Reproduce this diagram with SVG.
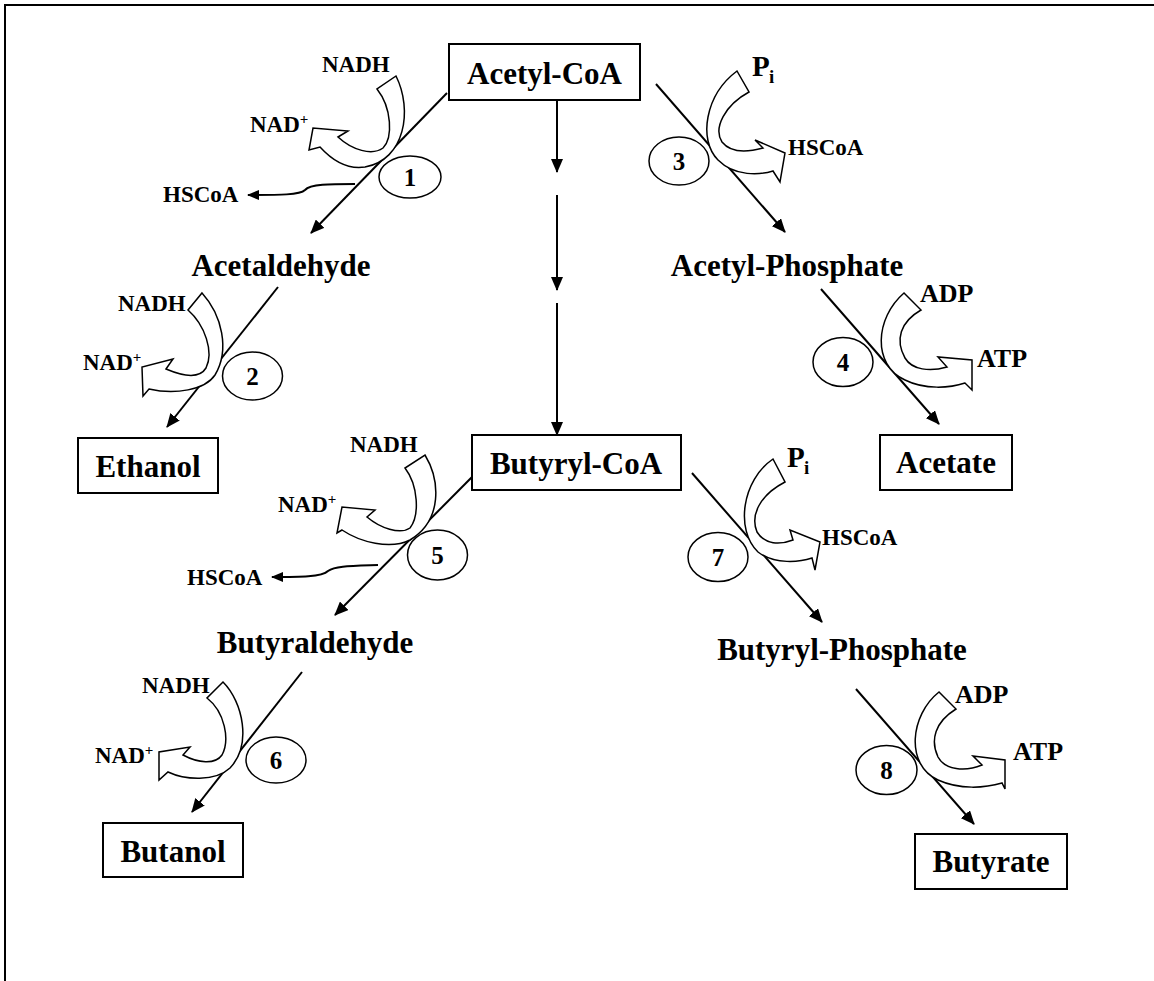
<svg xmlns="http://www.w3.org/2000/svg" width="1154" height="981" viewBox="0 0 1154 981">
<style>
.big{font-family:"Liberation Serif","Times New Roman",serif;font-weight:bold;font-size:31px;fill:#000;text-anchor:middle}
.sm{font-family:"Liberation Serif","Times New Roman",serif;font-weight:bold;font-size:23px;fill:#000}
.lg{font-family:"Liberation Serif","Times New Roman",serif;font-weight:bold;font-size:26px;fill:#000}
.pp{font-family:"Liberation Serif","Times New Roman",serif;font-weight:bold;font-size:29px;fill:#000}
.sub{font-family:"Liberation Serif","Times New Roman",serif;font-weight:bold;font-size:19px;fill:#000}
.num{font-family:"Liberation Serif","Times New Roman",serif;font-weight:bold;font-size:25px;fill:#000;text-anchor:middle}
.box{fill:#fff;stroke:#000;stroke-width:2}
.ell{fill:#fff;stroke:#000;stroke-width:1.5}
.rx{fill:none;stroke:#000;stroke-width:2;marker-end:url(#ah)}
.side{fill:none;stroke:#000;stroke-width:2;marker-end:url(#ahs)}
.curv{fill:#fff;stroke:#000;stroke-width:1.5;stroke-linejoin:miter}
</style>
<defs>
<marker id="ah" markerWidth="14" markerHeight="12" refX="13" refY="6" orient="auto" markerUnits="userSpaceOnUse">
<path d="M0,0 L14,6 L0,12 Z" fill="#000"/>
</marker>
<marker id="ahs" markerWidth="12" markerHeight="10" refX="11" refY="5" orient="auto" markerUnits="userSpaceOnUse">
<path d="M0,0 L12,5 L0,10 Z" fill="#000"/>
</marker>
</defs>
<rect width="1154" height="981" fill="#fff"/>
<g id="frame" fill="none" stroke="#000" stroke-width="2">
<path d="M5,981 L5,5 L1154,5"/>
</g>
<g id="connectors">
<path class="rx" d="M557,100 L557,172"/>
<path class="rx" d="M557,195 L557,290"/>
<path class="rx" d="M557,303 L557,435"/>
<path class="rx" d="M447,93 L311,233"/>
<path class="rx" d="M278,287 L167,427"/>
<path class="rx" d="M656,84 L785,232"/>
<path class="rx" d="M821,289 L939,424"/>
<path class="rx" d="M472,477 L335,615"/>
<path class="rx" d="M302,672 L192,812"/>
<path class="rx" d="M692,473 L822,622"/>
<path class="rx" d="M856,689 L974,824"/>
<path class="side" d="M355,184 C330,184 310,184 305,190 C300,195 280,195 248,195"/>
<path class="side" d="M378,565 C350,566 335,566 328,571 C322,577 300,577 272,577"/>
</g>
<g id="acetyl-coa"><rect class="box" x="449" y="44" width="191" height="56"/><text class="big" x="544.5" y="84">Acetyl-CoA</text></g>
<g id="butyryl-coa"><rect class="box" x="472" y="435" width="209" height="55"/><text class="big" x="576" y="474">Butyryl-CoA</text></g>
<g id="acetaldehyde"><text class="big" x="281" y="276">Acetaldehyde</text></g>
<g id="acetyl-phosphate"><text class="big" x="787" y="276">Acetyl-Phosphate</text></g>
<g id="ethanol"><rect class="box" x="78" y="438" width="140" height="55"/><text class="big" x="148" y="477">Ethanol</text></g>
<g id="acetate"><rect class="box" x="880" y="435" width="132" height="55"/><text class="big" x="946" y="473">Acetate</text></g>
<g id="butyraldehyde"><text class="big" x="315" y="653">Butyraldehyde</text></g>
<g id="butyryl-phosphate"><text class="big" x="842" y="660">Butyryl-Phosphate</text></g>
<g id="butanol"><rect class="box" x="103" y="823" width="140" height="54"/><text class="big" x="173" y="862">Butanol</text></g>
<g id="butyrate"><rect class="box" x="915" y="834" width="152" height="55"/><text class="big" x="991" y="872">Butyrate</text></g>

<g id="reaction1">
<path class="curv" d="M396,76 C413,110 405,160 365,167 C345,170 330,158 320,147 L309,150 L313,128 L348,131 L338,137 C352,150 372,156 383,148 C393,138 392,108 377,89 Z"/>
<ellipse class="ell" cx="410" cy="177" rx="31" ry="21"/><text class="num" x="410" y="186">1</text>
<text class="sm" x="322" y="72">NADH</text>
<text class="sm" x="250" y="132">NAD<tspan font-size="15" dy="-8">+</tspan></text>
<text class="sm" x="163" y="202">HSCoA</text>
</g>
<g id="reaction2">
<path class="curv" d="M202,293 C222,315 230,350 215,375 C205,390 175,395 149,389 L143,396 L142,367 L173,359 L166,369 C185,377 200,378 206,368 C214,352 205,325 188,310 Z"/>
<ellipse class="ell" cx="252.5" cy="376" rx="30" ry="24"/><text class="num" x="252.5" y="385">2</text>
<text class="sm" x="118" y="311">NADH</text>
<text class="sm" x="83" y="370">NAD<tspan font-size="15" dy="-8">+</tspan></text>
</g>
<g id="reaction3">
<path class="curv" d="M737,71 C705,95 698,140 718,160 C735,177 760,175 773,171 L780,182 L785,153 L755,140 L763,148 C745,153 730,152 722,142 C713,128 725,105 749,92 Z"/>
<ellipse class="ell" cx="679" cy="161" rx="30" ry="24"/><text class="num" x="679" y="170">3</text>
<text class="pp" x="752" y="76">P</text><text class="sub" x="769" y="83">i</text>
<text class="sm" x="788" y="155">HSCoA</text>
</g>
<g id="reaction4">
<path class="curv" d="M904,293 C875,318 872,365 905,380 C925,390 950,388 965,383 L972,390 L972,360 L938,357 L947,367 C930,372 912,370 905,358 C895,340 900,322 921,310 Z"/>
<ellipse class="ell" cx="843" cy="362" rx="30" ry="24.5"/><text class="num" x="843" y="371">4</text>
<text class="lg" x="920" y="302">ADP</text>
<text class="lg" x="977" y="367">ATP</text>
</g>
<g id="reaction5">
<path class="curv" d="M425,455 C440,480 443,520 410,540 C390,550 360,542 342,530 L337,533 L342,507 L375,510 L367,517 C380,528 400,535 410,528 C420,515 418,485 405,468 Z"/>
<ellipse class="ell" cx="437.5" cy="555" rx="30" ry="25"/><text class="num" x="437.5" y="564">5</text>
<text class="sm" x="350" y="452">NADH</text>
<text class="sm" x="278" y="512">NAD<tspan font-size="15" dy="-8">+</tspan></text>
<text class="sm" x="187" y="585">HSCoA</text>
</g>
<g id="reaction6">
<path class="curv" d="M223,682 C243,702 252,745 230,768 C215,782 185,780 168,772 L159,780 L159,752 L190,747 L183,755 C198,763 215,765 222,755 C230,740 225,712 207,698 Z"/>
<ellipse class="ell" cx="276" cy="760" rx="30" ry="23"/><text class="num" x="276" y="769">6</text>
<text class="sm" x="142" y="693">NADH</text>
<text class="sm" x="95" y="763">NAD<tspan font-size="15" dy="-8">+</tspan></text>
</g>
<g id="reaction7">
<path class="curv" d="M773,459 C742,480 735,530 758,552 C775,565 800,562 812,558 L815,570 L820,542 L790,530 L793,540 C780,545 765,545 757,532 C750,515 760,495 785,482 Z"/>
<ellipse class="ell" cx="718" cy="557" rx="30" ry="24.5"/><text class="num" x="718" y="566">7</text>
<text class="pp" x="787" y="467">P</text><text class="sub" x="804" y="474">i</text>
<text class="sm" x="822" y="545">HSCoA</text>
</g>
<g id="reaction8">
<path class="curv" d="M939,692 C910,715 905,765 938,780 C960,790 985,788 1002,783 L1005,789 L1005,760 L973,756 L982,765 C965,772 945,770 938,757 C930,740 935,722 956,709 Z"/>
<ellipse class="ell" cx="886.5" cy="770" rx="30.5" ry="24.5"/><text class="num" x="886.5" y="779">8</text>
<text class="lg" x="955" y="703">ADP</text>
<text class="lg" x="1013" y="760">ATP</text>
</g>
</svg>
